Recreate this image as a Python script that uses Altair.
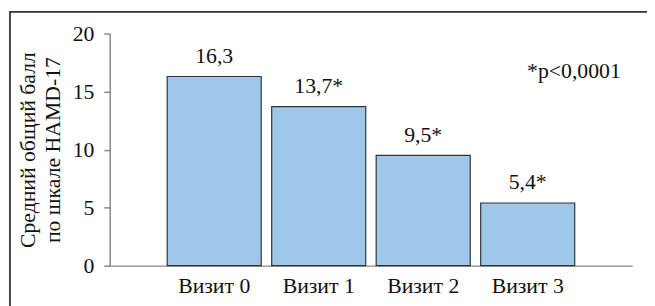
import altair as alt
import pandas as pd

categories = ["Визит 0", "Визит 1", "Визит 2", "Визит 3"]
values = [16.3, 13.7, 9.5, 5.4]
labels = ["16,3", "13,7*", "9,5*", "5,4*"]
y_ticks = [0, 5, 10, 15, 20]
y_title = ["Средний общий балл", "по шкале HAMD-17"]
note = "*p<0,0001"

df = pd.DataFrame({"cat": categories, "val": values, "lab": labels})

FONT = "Liberation Serif"
FS = 22

x = alt.X("cat:N", sort=categories,
          scale=alt.Scale(paddingInner=0.1, paddingOuter=0.55),
          axis=alt.Axis(title=None, labelAngle=0, ticks=False, labelPadding=10,
                        domainColor="#888888", domainWidth=1.5,
                        labelFont=FONT, labelFontSize=FS, labelColor="#111111"))
y = alt.Y("val:Q", scale=alt.Scale(domain=[0, 20]),
          axis=alt.Axis(values=y_ticks, grid=False, tickSize=6, tickColor="#888888",
                        domainColor="#888888", domainWidth=1.5, tickWidth=1.5,
                        labelPadding=10, labelFont=FONT, labelFontSize=FS,
                        labelColor="#111111", title=y_title, titleFont=FONT,
                        titleFontSize=FS, titleFontWeight="normal", titleColor="#111111",
                        titlePadding=8, titleLineHeight=25))

base = alt.Chart(df)
bars = base.mark_bar(fill="#9FC7EA", stroke="#333333", strokeWidth=1.2).encode(x=x, y=y)
text = base.mark_text(baseline="alphabetic", dy=-14, font=FONT, fontSize=FS,
                      color="#111111").encode(x=alt.X("cat:N", sort=categories), y="val:Q",
                                              text="lab:N")
note_layer = alt.Chart(pd.DataFrame({"t": [note]})).mark_text(
    align="center", baseline="alphabetic", font=FONT, fontSize=FS, color="#111111"
).encode(x=alt.value(470), y=alt.value(45), text="t:N")
frame = alt.Chart(pd.DataFrame({"t": [note]})).mark_rect(
    fill=None, stroke="#333333", strokeWidth=1.8
).encode(x=alt.value(-101), x2=alt.value(600), y=alt.value(-22), y2=alt.value(400))

chart = alt.layer(frame, bars, text, note_layer).properties(
    width=529, height=235,
    autosize=alt.AutoSizeParams(type="none"),
    padding={"left": 103, "top": 24, "right": 15, "bottom": 39},
).configure_view(stroke=None)

chart.save("out.html", embed_options={"renderer": "svg", "actions": False})
